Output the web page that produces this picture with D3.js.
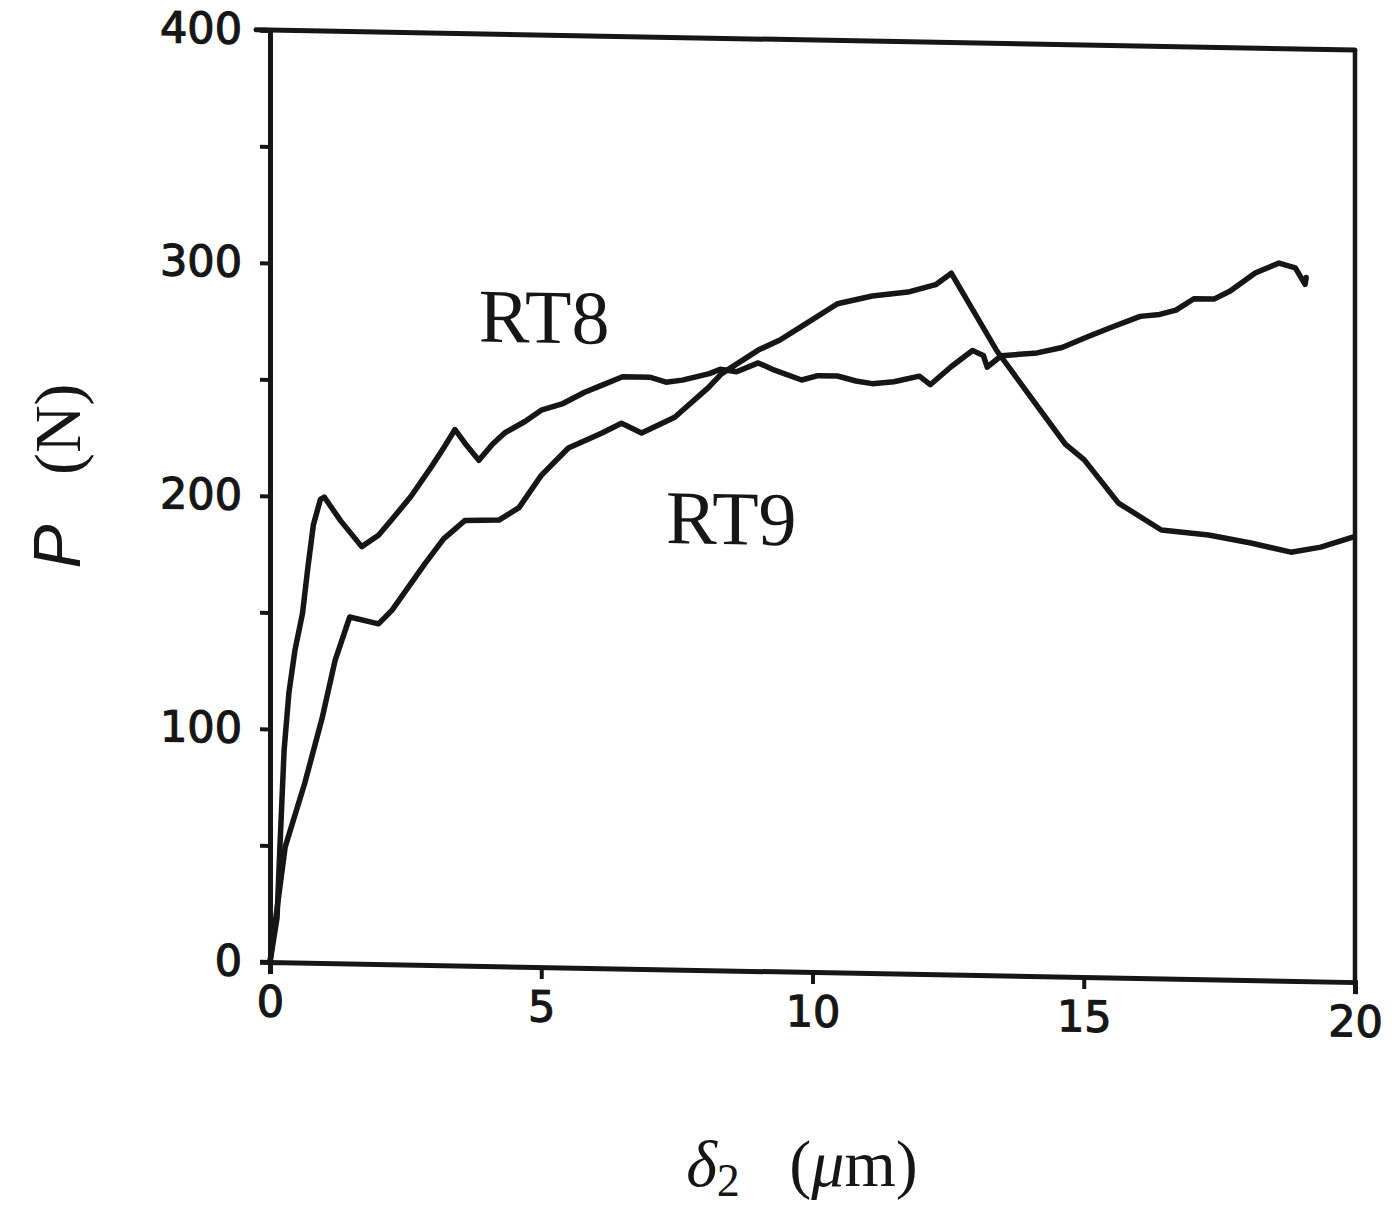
<!DOCTYPE html>
<html>
<head>
<meta charset="utf-8">
<script src="https://cdn.jsdelivr.net/npm/d3@7"></script>
<style>
  html, body { margin: 0; padding: 0; background: #fff; }
</style>
</head>
<body>
<svg id="chart" width="1400" height="1215"></svg>
<script>
// ---- data ----
const rt8X = [0, 0.13, 0.18, 0.26, 0.35, 0.46, 0.6, 0.7, 0.8, 0.93, 1.0, 1.3, 1.69, 2.0, 2.25, 2.6, 2.98, 3.2, 3.41, 3.6, 3.85, 4.1, 4.33, 4.7, 5.0, 5.4, 5.8, 6.1, 6.5, 7.0, 7.3, 7.6, 8.1, 8.3, 8.6, 9.0, 9.3, 9.8, 10.1, 10.46, 10.8, 11.1, 11.5, 11.97, 12.17, 12.56, 12.95, 13.15, 13.22, 13.48, 14.14, 14.6, 15.06, 15.5, 16.04, 16.4, 16.7, 17.03, 17.4, 17.7, 18.16, 18.6, 18.9, 19.08, 19.1];
const rt8P = [0, 19, 48, 91, 116, 134, 150, 170, 188, 199, 200, 190, 179, 184, 191, 201, 214, 222, 230, 224, 217, 224, 229, 234, 239, 242, 247, 250, 254, 254, 252, 253, 256, 258, 257, 261, 258, 254, 256, 256, 254, 253, 254, 256.6, 253, 261, 268, 266, 261, 266, 267.5, 270, 274.7, 279, 284, 285, 287, 292, 292, 295.6, 303.5, 308, 306, 299, 302];

const rt9X = [0, 0.28, 0.64, 0.96, 1.2, 1.47, 2.0, 2.25, 2.85, 3.2, 3.59, 4.22, 4.59, 5.0, 5.5, 6.11, 6.48, 6.85, 7.46, 8.08, 8.32, 9.0, 9.4, 9.8, 10.46, 11.1, 11.76, 12.27, 12.56, 13.4, 14.07, 14.66, 15.01, 15.64, 16.43, 17.3, 18.08, 18.82, 19.37, 19.96];
const rt9P = [0, 49.5, 77, 105, 130, 148.7, 146, 152, 172, 183, 191, 191.5, 197, 211, 223, 229.6, 234, 230, 237, 250, 256, 266.5, 271, 277, 287, 290.6, 292.6, 296, 301, 268, 247, 228.6, 222, 203.7, 192.5, 190.7, 187.6, 184, 186.4, 191];

const series = [
  { name: "RT8", xs: rt8X, ps: rt8P },
  { name: "RT9", xs: rt9X, ps: rt9P }
];

const xTicks = [0, 5, 10, 15, 20];
const yTicks = [0, 100, 200, 300, 400];
const yMinorTicks = [50, 150, 250, 350];
const seriesLabels = ["RT8", "RT9"];
const labelX = [3.85, 7.3];
const labelP = [268, 183];

// ---- layout ----
const svg = d3.select("#chart");
const ox = 270, oy = 30, W = 1085, H = 932;
const skew = 1.06; // slight skew of the scanned page

const x = d3.scaleLinear().domain([0, 20]).range([0, W]);
const y = d3.scaleLinear().domain([0, 400]).range([H, 0]);

const g = svg.append("g").attr("transform", `translate(${ox},${oy}) skewY(${skew})`);

const ink = "#161616";
const tickFont = "'DejaVu Sans', 'Liberation Sans', sans-serif";

// frame: top and right borders
g.append("line").attr("x1", -14).attr("x2", W).attr("y1", y(400)).attr("y2", y(400))
  .attr("stroke", ink).attr("stroke-width", 5).attr("stroke-linecap", "round");
g.append("line").attr("x1", W).attr("x2", W).attr("y1", y(400)).attr("y2", y(0))
  .attr("stroke", ink).attr("stroke-width", 4.5);

// y axis
const yAxis = g.append("g").call(
  d3.axisLeft(y).tickValues(yTicks).tickSize(10).tickPadding(18).tickFormat(d3.format("d"))
);
const yMinor = g.append("g").call(
  d3.axisLeft(y).tickValues(yMinorTicks).tickSize(10).tickFormat("")
);
yMinor.select(".domain").remove();

// x axis
const xAxis = g.append("g").attr("transform", `translate(0,${H})`).call(
  d3.axisBottom(x).tickValues(xTicks).tickSize(12).tickPadding(12).tickFormat(d3.format("d"))
);

[yAxis, yMinor, xAxis].forEach(a => {
  a.select(".domain").attr("stroke", ink).attr("stroke-width", 5);
  a.selectAll(".tick line").attr("stroke", ink).attr("stroke-width", 4);
  a.selectAll(".tick text").attr("fill", ink).attr("stroke", ink).attr("stroke-width", 1.2)
    .style("font-family", tickFont).style("font-size", "43px");
});

// series lines
const line = d3.line().x(d => x(d[0])).y(d => y(d[1])).curve(d3.curveLinear);
series.forEach(s => {
  const pts = s.xs.map((v, i) => [v, s.ps[i]]);
  g.append("path").datum(pts).attr("d", line)
    .attr("fill", "none").attr("stroke", ink).attr("stroke-width", 5.5)
    .attr("stroke-linejoin", "round").attr("stroke-linecap", "round");
});

// series labels
seriesLabels.forEach((t, i) => {
  g.append("text").attr("x", x(labelX[i])).attr("y", y(labelP[i]))
    .text(t).attr("fill", ink)
    .style("font-family", "'Liberation Serif', 'Times New Roman', serif")
    .style("font-size", "76px");
});

// axis titles
const xt = svg.append("text").attr("x", 802).attr("y", 1186).attr("text-anchor", "middle")
  .attr("fill", ink).style("font-family", "'Liberation Serif', 'DejaVu Serif', serif")
  .style("font-size", "66px");
xt.append("tspan").text("δ").style("font-style", "italic");
xt.append("tspan").text("2").attr("dy", 10).style("font-size", "46px");
xt.append("tspan").text("\u00a0\u00a0\u00a0(").attr("dy", -10);
xt.append("tspan").text("μ").style("font-style", "italic");
xt.append("tspan").text("m)");

const yt = svg.append("text").attr("transform", "translate(80,476) rotate(-90)")
  .attr("text-anchor", "middle").attr("fill", ink)
  .style("font-family", "'Liberation Serif', serif").style("font-size", "66px");
yt.append("tspan").text("P").style("font-style", "italic")
  .style("font-family", "'Liberation Sans', Arial, sans-serif");
yt.append("tspan").text("\u00a0\u00a0\u00a0(N)");
</script>
</body>
</html>
